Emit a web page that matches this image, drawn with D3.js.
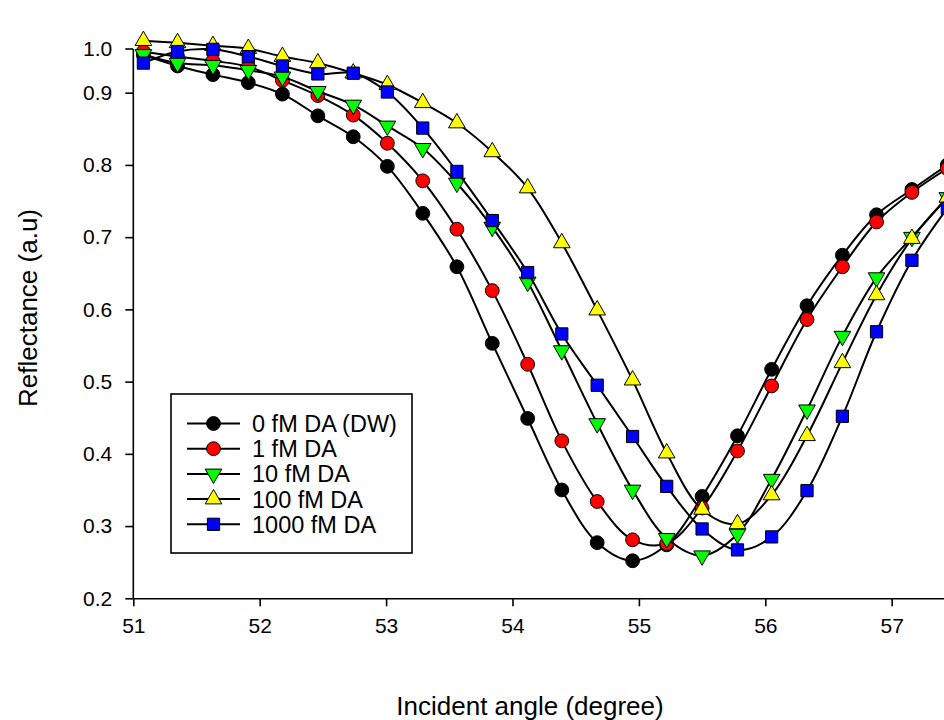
<!DOCTYPE html>
<html lang="en">
<head>
  <meta charset="UTF-8">
  <title>Reflectance vs incident angle</title>
  <style>
    body {
      margin: 0;
      background: #fff;
      font-family: "Liberation Sans", Arial, sans-serif;
    }
    svg { display: block; }
    .axis path, .axis line { stroke: #000; stroke-width: 1.6; }
    .axis text { font-family: "Liberation Sans", Arial, sans-serif; font-size: 21px; fill: #000; }
    .series-line { fill: none; stroke: #000; stroke-width: 2; }
    .marker { stroke: #000; stroke-width: 1; }
  </style>
</head>
<body>
  <svg id="chart" width="944" height="720"></svg>
  <script src="https://d3js.org/d3.v7.min.js"></script>
  <script>
    // incident angle (degree) of each measured point
    const angles = [51.08, 51.35, 51.63, 51.91, 52.18, 52.46, 52.74, 53.01, 53.29, 53.56, 53.84, 54.12,
                    54.39, 54.67, 54.95, 55.22, 55.50, 55.78, 56.05, 56.33, 56.61, 56.88, 57.16, 57.44];

    const dw0 = [0.952, 0.937, 0.925, 0.914, 0.898, 0.868, 0.839, 0.798, 0.733, 0.659, 0.553, 0.449,
                 0.350, 0.277, 0.252, 0.274, 0.341, 0.425, 0.517, 0.605, 0.675, 0.731, 0.766, 0.800];
    const da1 = [0.957, 0.950, 0.944, 0.936, 0.917, 0.896, 0.869, 0.830, 0.778, 0.711, 0.626, 0.524,
                 0.418, 0.334, 0.281, 0.276, 0.325, 0.404, 0.494, 0.586, 0.659, 0.721, 0.762, 0.795];
    const da10 = [0.953, 0.941, 0.938, 0.931, 0.922, 0.902, 0.883, 0.854, 0.823, 0.775, 0.714, 0.638,
                  0.543, 0.442, 0.350, 0.283, 0.259, 0.289, 0.365, 0.461, 0.563, 0.644, 0.700, 0.755];
    const da100 = [0.972, 0.969, 0.965, 0.961, 0.950, 0.941, 0.927, 0.911, 0.886, 0.858, 0.818, 0.768,
                   0.692, 0.599, 0.502, 0.401, 0.323, 0.303, 0.343, 0.425, 0.526, 0.620, 0.698, 0.755];
    const da1000 = [0.941, 0.957, 0.960, 0.950, 0.937, 0.926, 0.927, 0.901, 0.851, 0.791, 0.723, 0.651,
                    0.566, 0.495, 0.424, 0.355, 0.296, 0.267, 0.285, 0.349, 0.452, 0.569, 0.668, 0.740];

    const seriesNames = ['0 fM DA (DW)', '1 fM DA', '10 fM DA', '100 fM DA', '1000 fM DA'];
    const seriesValues = [dw0, da1, da10, da100, da1000];
    const seriesFill = ['#000000', '#ff0000', '#00ff00', '#ffff00', '#0000ff'];
    const seriesSymbol = [d3.symbolCircle, d3.symbolCircle, d3.symbolTriangle, d3.symbolTriangle, d3.symbolSquare];
    const symbolSize = [150, 150, 120, 120, 150];
    const symbolRotate = [0, 0, 180, 0, 0];

    const xTicks = [51, 52, 53, 54, 55, 56, 57];
    const yTicks = [0.2, 0.3, 0.4, 0.5, 0.6, 0.7, 0.8, 0.9];

    const svg = d3.select('#chart');

    const x = d3.scaleLinear().domain([51, 58]).range([133.3, 1018.1]);
    const y = d3.scaleLinear().domain([0.2, 0.9]).range([598.3, 92.7]);
    const axisTop = 49;

    // x axis runs off the right edge like the reference
    svg.append('g')
      .attr('class', 'axis')
      .attr('transform', `translate(0, ${y(0.2)})`)
      .call(d3.axisBottom(x).tickValues(xTicks).tickFormat(d3.format('d')).tickSize(8).tickSizeOuter(0).tickPadding(12));

    const yAxis = svg.append('g')
      .attr('class', 'axis')
      .attr('transform', `translate(${x(51)}, 0)`)
      .call(d3.axisLeft(y).tickValues(yTicks).tickFormat(d3.format('.1f')).tickSize(8).tickSizeOuter(0).tickPadding(13));
    // extend the axis line up to the 1.0 mark
    yAxis.select('.domain').attr('d', `M0,${y(0.2)}V${axisTop}`);
    const topTick = yAxis.append('g').attr('class', 'tick').attr('transform', `translate(0, ${axisTop})`);
    topTick.append('line').attr('x2', -8);
    topTick.append('text').attr('x', -21).attr('dy', '0.32em').attr('text-anchor', 'end').text('1.0');

    const line = d3.line()
      .x((d, i) => x(angles[i]))
      .y(d => y(d))
      .curve(d3.curveCatmullRom.alpha(0.5));

    seriesValues.forEach((vals, s) => {
      const g = svg.append('g');
      g.append('path')
        .attr('class', 'series-line')
        .attr('d', line(vals));
      g.selectAll('path.marker')
        .data(vals)
        .enter()
        .append('path')
        .attr('class', 'marker')
        .attr('d', d3.symbol().type(seriesSymbol[s]).size(symbolSize[s]))
        .attr('fill', seriesFill[s])
        .attr('transform', (d, i) => `translate(${x(angles[i])}, ${y(d)}) rotate(${symbolRotate[s]})`);
    });

    // legend
    const legend = svg.append('g').attr('transform', 'translate(171, 394)');
    legend.append('rect')
      .attr('width', 241)
      .attr('height', 159)
      .attr('fill', '#fff')
      .attr('stroke', '#000')
      .attr('stroke-width', 1.6);

    seriesNames.forEach((name, s) => {
      const row = legend.append('g').attr('transform', `translate(0, ${29.5 + s * 25.2})`);
      row.append('line')
        .attr('x1', 16).attr('x2', 69)
        .attr('stroke', '#000').attr('stroke-width', 2);
      row.append('path')
        .attr('class', 'marker')
        .attr('d', d3.symbol().type(seriesSymbol[s]).size(symbolSize[s]))
        .attr('fill', seriesFill[s])
        .attr('transform', `translate(42.5, 0) rotate(${symbolRotate[s]})`);
      row.append('text')
        .attr('x', 81)
        .attr('dy', '0.36em')
        .attr('font-size', 23.5)
        .text(name);
    });

    // axis titles
    svg.append('text')
      .attr('x', 530)
      .attr('y', 715)
      .attr('text-anchor', 'middle')
      .attr('font-size', 26)
      .text('Incident angle (degree)');

    svg.append('text')
      .attr('transform', 'rotate(-90)')
      .attr('x', -308)
      .attr('y', 37)
      .attr('text-anchor', 'middle')
      .attr('font-size', 26)
      .text('Reflectance (a.u)');
  </script>
</body>
</html>
